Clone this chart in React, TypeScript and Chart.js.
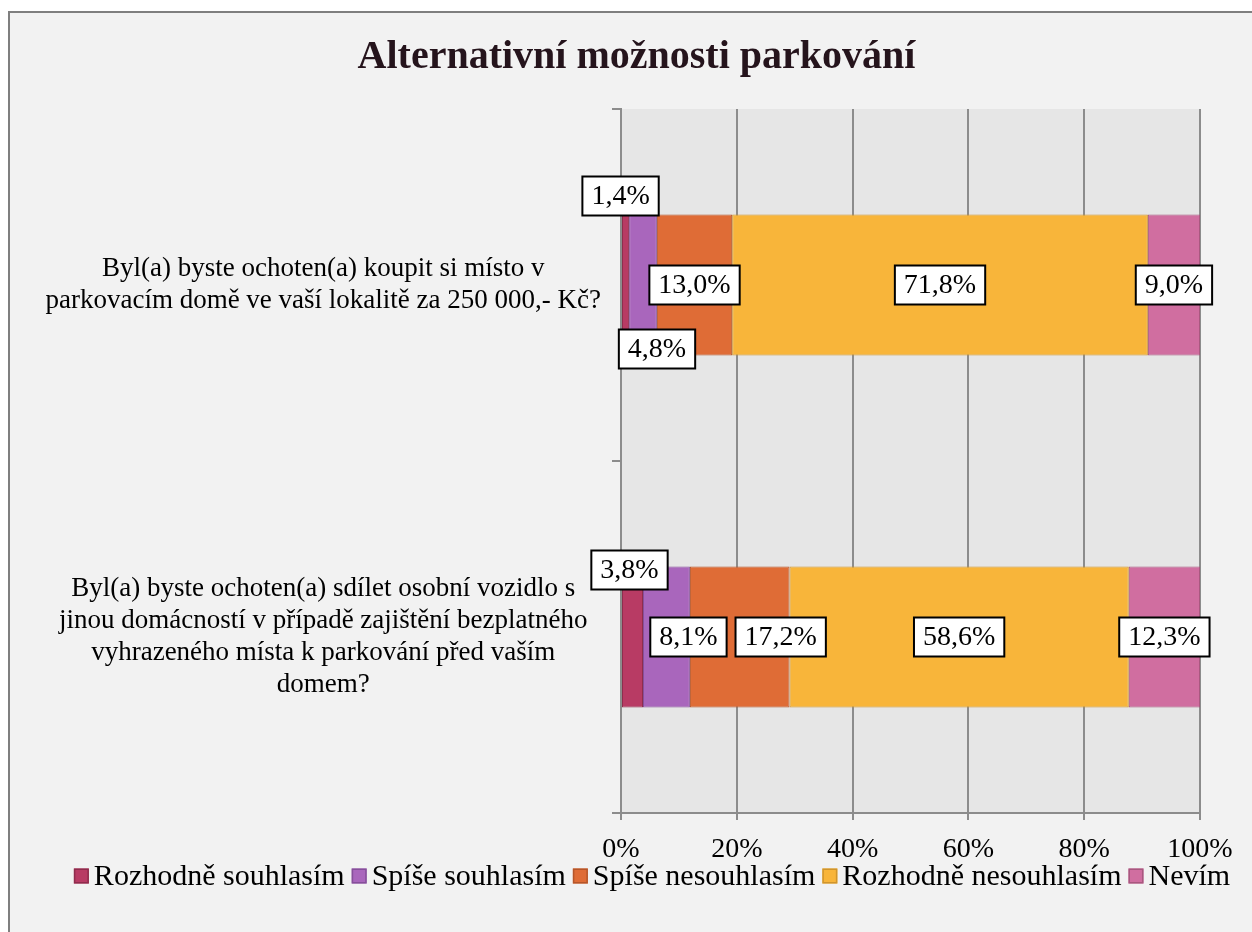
import React, { useEffect, useRef } from 'react';
import { Chart, registerables } from 'chart.js';

Chart.register(...registerables);

const chartTitle = 'Alternativní možnosti parkování';

const categories: string[][] = [
  ['Byl(a) byste ochoten(a) koupit si místo v', 'parkovacím domě ve vaší lokalitě za 250 000,- Kč?'],
  [
    'Byl(a) byste ochoten(a) sdílet osobní vozidlo s',
    'jinou domácností v případě zajištění bezplatného',
    'vyhrazeného místa k parkování před vaším',
    'domem?',
  ],
];

const seriesNames = [
  'Rozhodně souhlasím',
  'Spíše souhlasím',
  'Spíše nesouhlasím',
  'Rozhodně nesouhlasím',
  'Nevím',
];

const rozhodneSouhlasim = [1.4, 3.8];
const spiseSouhlasim = [4.8, 8.1];
const spiseNesouhlasim = [13.0, 17.2];
const rozhodneNesouhlasim = [71.8, 58.6];
const nevim = [9.0, 12.3];

const xTickValues = [0, 20, 40, 60, 80, 100];

const fillColors = ['#b83b64', '#a966bc', '#df6c36', '#f8b53a', '#d06ea0'];
const borderColors = ['#8f2d4d', '#86509a', '#b5562a', '#cf952e', '#a8587f'];

// pixel nudges for data labels that were moved to avoid overlaps: key = dataset-index
const labelNudges: Record<string, [number, number]> = {
  '0-0': [-5, -89],
  '1-0': [14, 64],
  '0-1': [-3, -67],
  '1-1': [22, 0],
  '2-1': [41, 0],
};

const FONT = "'Liberation Serif', 'Times New Roman', serif";

const plotBackground = {
  id: 'plotBackground',
  beforeDraw(chart: any) {
    const { ctx, chartArea } = chart;
    ctx.save();
    ctx.fillStyle = '#e6e6e6';
    ctx.fillRect(chartArea.left, chartArea.top, chartArea.right - chartArea.left, chartArea.bottom - chartArea.top);
    ctx.restore();
  },
};

const boxedLabels = {
  id: 'boxedLabels',
  afterDatasetsDraw(chart: any) {
    const { ctx } = chart;
    ctx.save();
    ctx.font = `28px ${FONT}`;
    ctx.textAlign = 'center';
    ctx.textBaseline = 'middle';
    chart.data.datasets.forEach((ds: any, di: number) => {
      const meta = chart.getDatasetMeta(di);
      meta.data.forEach((el: any, idx: number) => {
        const v = ds.data[idx] as number;
        const text = v.toFixed(1).replace('.', ',') + '%';
        const nudge = labelNudges[`${di}-${idx}`] || [0, 0];
        const cx = (el.x + el.base) / 2 + nudge[0];
        const cy = el.y + nudge[1];
        const w = ctx.measureText(text).width + 18;
        const h = 39;
        ctx.fillStyle = '#ffffff';
        ctx.fillRect(cx - w / 2, cy - h / 2, w, h);
        ctx.lineWidth = 2;
        ctx.strokeStyle = '#000000';
        ctx.strokeRect(cx - w / 2, cy - h / 2, w, h);
        ctx.fillStyle = '#000000';
        ctx.fillText(text, cx, cy + 1);
      });
    });
    ctx.restore();
  },
};

// legend drawn with tight spacing (square, small gap, text)
const tightLegend = {
  id: 'tightLegend',
  afterDraw(chart: any) {
    const { ctx } = chart;
    const box = 15;
    const gapBoxText = 5;
    const gapItems = 7;
    const centerX = 652;
    const centerY = 876;
    ctx.save();
    ctx.font = `30px ${FONT}`;
    ctx.textBaseline = 'middle';
    ctx.textAlign = 'left';
    const items = chart.data.datasets.map((ds: any) => ({
      label: ds.label as string,
      fill: ds.backgroundColor as string,
      stroke: ds.borderColor as string,
      w: ctx.measureText(ds.label).width,
    }));
    const total =
      items.reduce((s: number, it: any) => s + box + gapBoxText + it.w, 0) + gapItems * (items.length - 1);
    let x = centerX - total / 2;
    items.forEach((it: any) => {
      ctx.fillStyle = it.fill;
      ctx.fillRect(x, centerY - box / 2, box, box);
      ctx.lineWidth = 1.5;
      ctx.strokeStyle = it.stroke;
      ctx.strokeRect(x + 0.75, centerY - box / 2 + 0.75, box - 1.5, box - 1.5);
      ctx.fillStyle = '#000000';
      ctx.fillText(it.label, x + box + gapBoxText, centerY + 1);
      x += box + gapBoxText + it.w + gapItems;
    });
    ctx.restore();
  },
};

export default function App() {
  const canvasRef = useRef<HTMLCanvasElement | null>(null);

  useEffect(() => {
    if (!canvasRef.current) return;
    Chart.defaults.font.family = FONT;
    const seriesValues = [rozhodneSouhlasim, spiseSouhlasim, spiseNesouhlasim, rozhodneNesouhlasim, nevim];
    const chart = new Chart(canvasRef.current, {
      type: 'bar',
      data: {
        labels: categories,
        datasets: seriesNames.map((name, i) => ({
          label: name,
          data: seriesValues[i],
          backgroundColor: fillColors[i],
          borderColor: borderColors[i],
          borderWidth: 1,
          borderSkipped: false,
          categoryPercentage: 1,
          barPercentage: 0.4,
        })),
      },
      options: {
        indexAxis: 'y',
        animation: false,
        responsive: false,
        devicePixelRatio: 1,
        layout: { padding: { top: 0, left: 21, right: 0, bottom: 70 } },
        scales: {
          x: {
            stacked: true,
            min: 0,
            max: 100,
            afterBuildTicks: (scale: any) => {
              scale.ticks = xTickValues.map((v) => ({ value: v }));
            },
            afterFit: (scale: any) => {
              scale.height = 49;
              scale.paddingRight = 52;
            },
            ticks: {
              color: '#000000',
              font: { size: 28 },
              padding: 13,
              callback: (v: any) => `${v}%`,
            },
            grid: {
              color: '#8c8c8c',
              lineWidth: 2,
              tickLength: 7,
              drawOnChartArea: true,
            },
            border: { color: '#8c8c8c', width: 2 },
          },
          y: {
            stacked: true,
            afterFit: (scale: any) => {
              scale.width = 600;
            },
            ticks: {
              color: '#000000',
              font: { size: 27, lineHeight: 32 / 27 },
              crossAlign: 'center',
              padding: 11,
              autoSkip: false,
            },
            grid: {
              color: '#8c8c8c',
              lineWidth: 2,
              tickLength: 9,
              drawOnChartArea: false,
              offset: true,
            },
            border: { color: '#8c8c8c', width: 2 },
          },
        },
        plugins: {
          title: {
            display: true,
            text: chartTitle,
            color: '#25141c',
            font: { size: 40, weight: 'bold', lineHeight: 1.2 },
            padding: { top: 34, bottom: 27 },
          },
          legend: { display: false },
          tooltip: { enabled: false },
        },
      },
      plugins: [plotBackground, boxedLabels, tightLegend],
    } as any);
    return () => chart.destroy();
  }, []);

  return (
    <div style={{ position: 'fixed', left: 0, top: 0, width: 1252, height: 932, overflow: 'hidden', background: '#ffffff' }}>
      <div
        style={{
          position: 'absolute',
          left: 8,
          top: 11,
          width: 1300,
          height: 1000,
          border: '2px solid #7f7f7f',
          background: '#f2f2f2',
        }}
      />
      <canvas ref={canvasRef} width={1252} height={932} style={{ position: 'absolute', left: 0, top: 0, width: 1252, height: 932 }} />
    </div>
  );
}
